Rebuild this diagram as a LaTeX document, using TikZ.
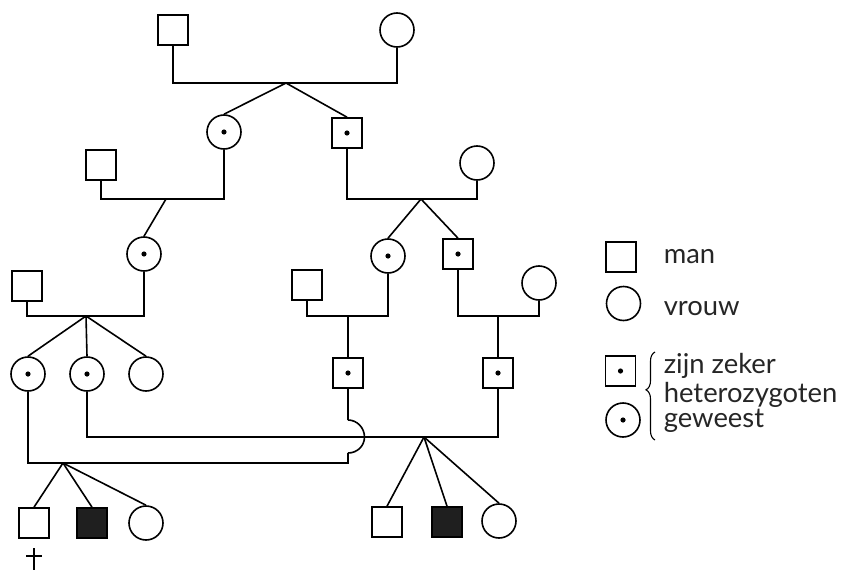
\documentclass[tikz,border=0pt]{standalone}
\usepackage{fontspec}
\setmainfont{Lato}
\usetikzlibrary{decorations.pathreplacing,calc}
\tikzset{
  lw/.style={line width=1.6pt},
  sq/.style={draw, lw, rectangle, minimum size=30pt, inner sep=0pt},
  ci/.style={draw, lw, circle, minimum size=34pt, inner sep=0pt},
  het/.style={path picture={\fill[black] (path picture bounding box.center) circle (2.6pt);}},
  aff/.style={fill=black!88},
  legtext/.style={anchor=base west, inner sep=0pt, font=\fontsize{27.4}{30}\selectfont, text=black!85},
}
\begin{document}
\begin{tikzpicture}[x=1pt, y=-1pt, lw]
\useasboundingbox (0,0) rectangle (841,570);
% generation 1
\node[sq] (m1) at (173,30) {};
\node[ci] (f1) at (397,30) {};
\coordinate (J1) at (286,83);
% generation 2
\node[ci,het] (c1) at (224,132) {};
\node[sq,het] (s1) at (347,133) {};
\node[sq] (h2) at (101,165) {};
\node[ci] (f2) at (477,163) {};
\coordinate (J2) at (166,199);
\coordinate (J3) at (421,199);
% generation 3
\node[ci,het] (c2) at (144,254) {};
\node[ci,het] (c3) at (388,256) {};
\node[sq,het] (s3) at (458,254) {};
\node[sq] (h3) at (27,286) {};
\node[sq] (h4) at (307,285) {};
\node[ci] (f4) at (539,283) {};
\coordinate (J4) at (86,316);
\coordinate (J5) at (348,316);
\coordinate (J6) at (498,316);
% generation 4
\node[ci,het] (d1) at (28,374) {};
\node[ci,het] (d2) at (87,374) {};
\node[ci] (d3) at (146,374) {};
\node[sq,het] (s4) at (348,373) {};
\node[sq,het] (s5) at (498,373) {};
\coordinate (J7) at (63,463);
\coordinate (J8) at (424,437);
\coordinate (kc) at (348,463);
\coordinate (hb) at (348,453);
\coordinate (hm) at (364.5,437);
\coordinate (ht) at (348,420);
% generation 5
\node[sq] (k1) at (34,523) {};
\node[sq,aff] (k2) at (92,523) {};
\node[ci] (k3) at (146,523) {};
\node[sq] (k4) at (387,522) {};
\node[sq,aff] (k5) at (447,522) {};
\node[ci] (k6) at (499,521) {};
\coordinate (crt) at (34,548);
\coordinate (crb) at (34,570);
\coordinate (crl) at (26,556);
\coordinate (crr) at (42,556);

% connectors
\draw (m1.south) |- (J1) -| (f1.south);
\draw (J1) -- (c1.north);
\draw (J1) -- (s1.north);
\draw (h2.south) |- (J2) -| (c1.south);
\draw (J2) -- (c2.north);
\draw (s1.south) |- (J3) -| (f2.south);
\draw (J3) -- (c3.north);
\draw (J3) -- (s3.north);
\draw (h3.south) |- (J4) -| (c2.south);
\draw (J4) -- (d1.north);
\draw (J4) -- (d2.north);
\draw (J4) -- (d3.north);
\draw (h4.south) |- (J5) -| (c3.south);
\draw (J5) -- (s4.north);
\draw (s3.south) |- (J6) -| (f4.south);
\draw (J6) -- (s5.north);
\draw (d1.south) -- (d1.south |- kc) -- (kc) -- (hb);
\draw (hb) .. controls +(9.1,0) and +(0,9.1) .. (hm)
  .. controls +(0,-9.1) and +(9.1,0) .. (ht);
\draw (ht) -- (s4.south);
\draw (d2.south) |- (J8) -| (s5.south);
\draw (J7) -- (k1.north);
\draw (J7) -- (k2.north);
\draw (J7) -- (k3.north);
\draw (J8) -- (k4.north);
\draw (J8) -- (k5.north);
\draw (J8) -- (k6.north);
\draw (crt) -- (crb);
\draw (crl) -- (crr);

% legend
\node[sq] (lsq) at (621,257) {};
\node[ci] (lci) at (623.5,303.5) {};
\node[sq,het] (lsqd) at (620.5,371) {};
\node[ci,het] (lcid) at (623,420) {};
\node[legtext] (tman) at (663,263) {man};
\node[legtext] (tvr) at (663,315) {vrouw};
\node[legtext] (tz1) at (663,373) {zijn zeker};
\node[legtext] (tz2) at (663,402) {heterozygoten};
\node[legtext] (tz3) at (663,427) {geweest};
\coordinate (bt) at (655,352);
\coordinate (bb) at (655,440);
\draw[line width=1.1pt, decorate, decoration={brace, amplitude=9pt, aspect=0.57}] (bb) -- (bt);
\end{tikzpicture}
\end{document}
